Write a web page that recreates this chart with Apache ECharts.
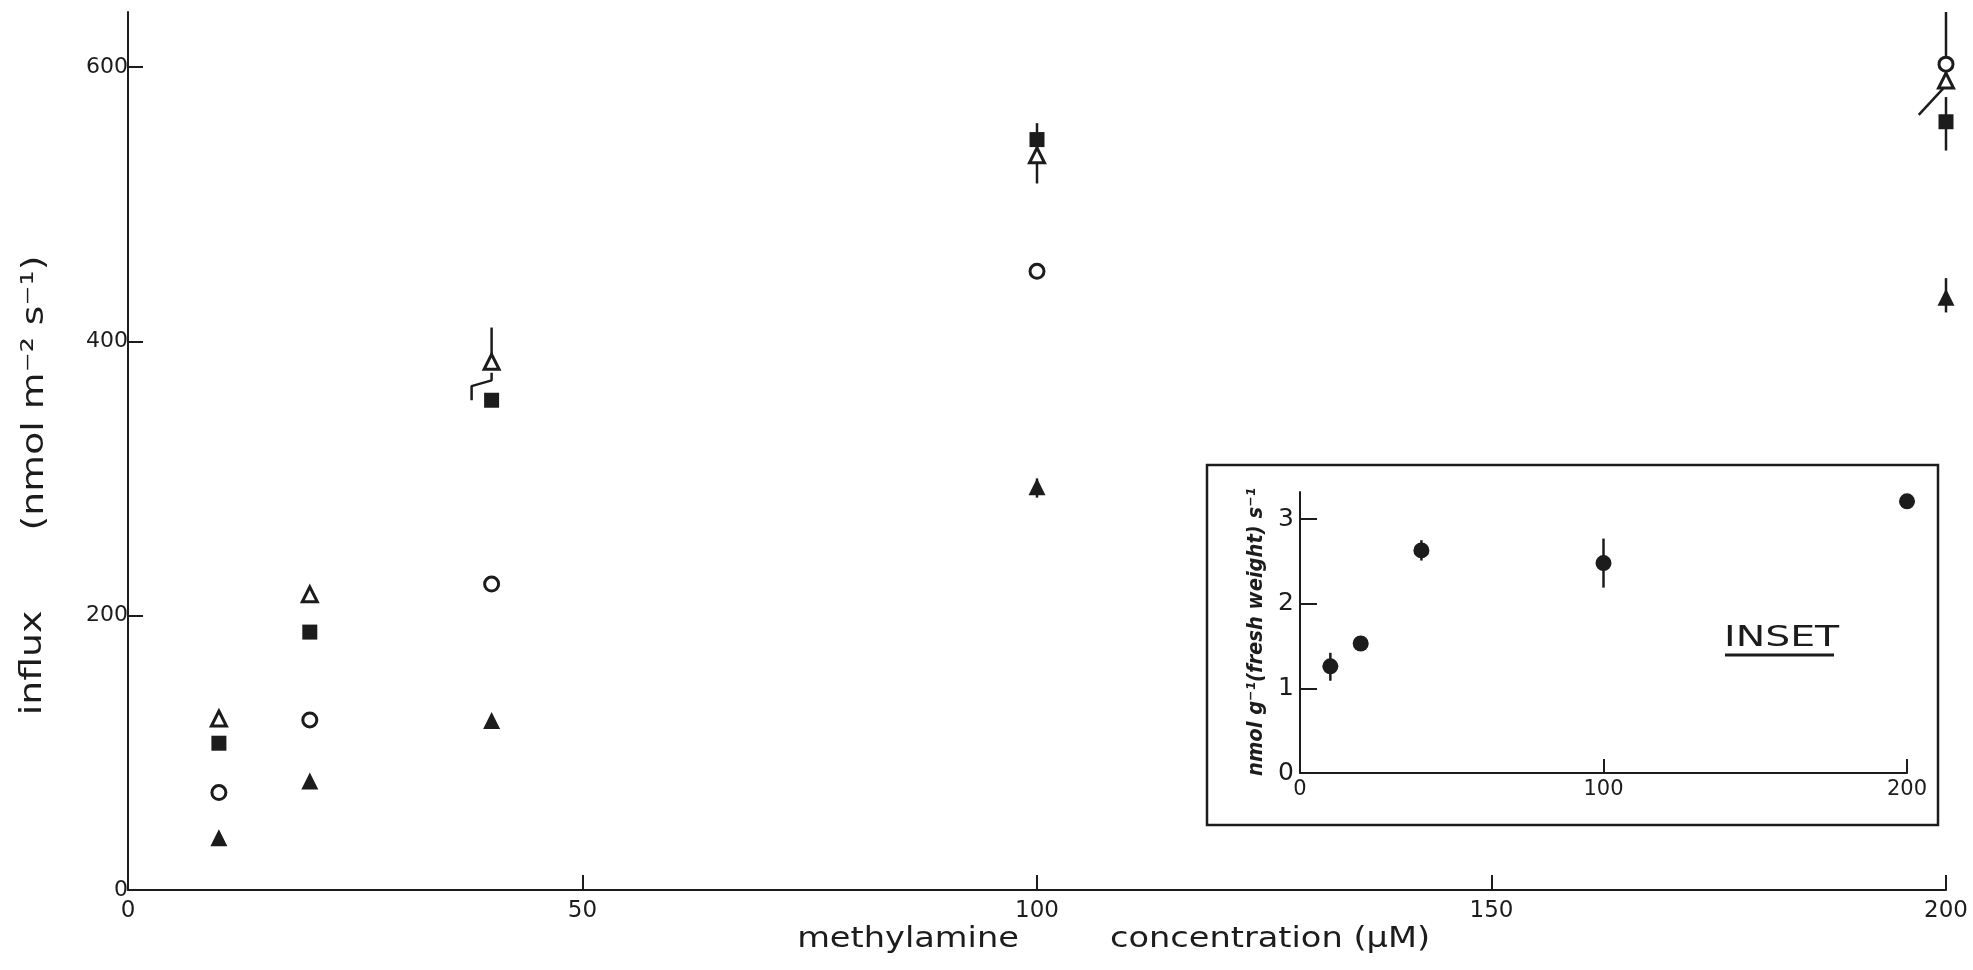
<!DOCTYPE html>
<html>
<head>
<meta charset="utf-8">
<script src="https://cdn.jsdelivr.net/npm/echarts@6/dist/echarts.min.js"></script>
<style>
  html, body { margin: 0; padding: 0; background: #ffffff; }
  #chart { width: 1973px; height: 970px; }
</style>
</head>
<body>
<div id="chart"></div>
<script>
// Methylamine influx against external concentration, four treatments
const concentration = [10, 20, 40, 100, 200];
const influxOpenTriangle = [125, 215.5, 385, 535.5, 590];
const influxFilledSquare = [107, 188, 357, 547, 560];
const influxOpenCircle = [71, 124, 223, 451, 602];
const influxFilledTriangle = [38, 79.5, 123.5, 294, 432];

// vertical error bars of the main panel: x, lower end, upper end
const errorX = [40, 100, 100, 100, 200, 200, 200];
const errorLow = [385, 515, 535, 286, 590, 539, 421];
const errorHigh = [410, 536, 559, 300, 640, 578, 446];

// lower whiskers of the open triangles, drawn aside where marks crowd
const bentWhiskers = [
  [[40, 377], [40, 371.5], [37.8, 367.3], [37.8, 357]],
  [[199.8, 585], [197, 565]]
];

const xTickValues = [0, 50, 100, 150, 200];
const yTickValues = [0, 200, 400, 600];

// inset: uptake per gram fresh weight
const insetConcentration = [10, 20, 40, 100, 200];
const insetUptake = [1.26, 1.53, 2.63, 2.48, 3.21];
const insetErrLow = [1.09, null, 2.51, 2.19, null];
const insetErrHigh = [1.42, null, 2.75, 2.77, null];
const insetXTickValues = [0, 100, 200];
const insetYTickValues = [0, 1, 2, 3];

const INK = '#1c1c1c';
const FONT = 'DejaVu Sans';

function errorBar(params, api) {
  const x = api.value(0);
  const p1 = api.coord([x, api.value(1)]);
  const p2 = api.coord([x, api.value(2)]);
  return {
    type: 'line',
    shape: { x1: p1[0], y1: p1[1], x2: p2[0], y2: p2[1] },
    style: { stroke: INK, lineWidth: 2.5 }
  };
}

function axisCommon(extra) {
  return Object.assign({
    type: 'value',
    splitLine: { show: false },
    axisLine: { show: true, onZero: false, lineStyle: { color: INK, width: 2 } },
  }, extra);
}

function centredText(x, y, text, font, extra) {
  return Object.assign({
    type: 'text', z: 10, x: x, y: y,
    style: { text: text, fill: INK, font: font,
      textAlign: 'center', textVerticalAlign: 'middle', align: 'center', verticalAlign: 'middle' }
  }, extra);
}

const mainErrorData = errorX.map((x, i) => [x, errorLow[i], errorHigh[i]]);
const insetErrorData = insetConcentration
  .map((x, i) => [x, insetErrLow[i], insetErrHigh[i]])
  .filter(d => d[1] !== null);

const pairs = ys => concentration.map((x, i) => [x, ys[i]]);

const chart = echarts.init(document.getElementById('chart'), null, { renderer: 'canvas' });

chart.setOption({
  backgroundColor: '#ffffff',
  animation: false,
  grid: [
    { left: 128, right: 27, top: 12, bottom: 80 },
    { left: 1300, top: 492, width: 607, height: 281 }
  ],
  xAxis: [
    axisCommon({
      gridIndex: 0, min: 0, max: 200, interval: 50,
      axisTick: { show: true, inside: true, length: 15, customValues: [50, 100, 150, 200],
        lineStyle: { color: INK, width: 2 } },
      axisLabel: { customValues: xTickValues, color: INK, fontSize: 23, fontFamily: FONT, margin: 10 }
    }),
    axisCommon({
      gridIndex: 1, min: 0, max: 200, interval: 100,
      axisTick: { show: true, inside: true, length: 14, customValues: [100, 200],
        lineStyle: { color: INK, width: 2 } },
      axisLabel: { customValues: insetXTickValues, color: INK, fontSize: 21, fontFamily: FONT, margin: 6 }
    })
  ],
  yAxis: [
    axisCommon({
      gridIndex: 0, min: 0, max: 640, interval: 200,
      axisTick: { show: true, inside: true, length: 15, customValues: [200, 400, 600],
        lineStyle: { color: INK, width: 2 } },
      axisLabel: { customValues: yTickValues, color: INK, fontSize: 22, fontFamily: FONT, margin: 0 }
    }),
    axisCommon({
      gridIndex: 1, min: 0, max: 3.32, interval: 1,
      axisTick: { show: true, inside: true, length: 17, customValues: [1, 2, 3],
        lineStyle: { color: INK, width: 2 } },
      axisLabel: { customValues: insetYTickValues, color: INK, fontSize: 25, fontFamily: FONT, margin: 6 }
    })
  ],
  series: [
    {
      name: 'error bars', type: 'custom', xAxisIndex: 0, yAxisIndex: 0, z: 1,
      renderItem: errorBar, data: mainErrorData
    },
    ...bentWhiskers.map(w => ({
      type: 'line', xAxisIndex: 0, yAxisIndex: 0, z: 1, symbol: 'none',
      lineStyle: { color: INK, width: 2.5 }, data: w
    })),
    {
      name: 'open triangle', type: 'scatter', xAxisIndex: 0, yAxisIndex: 0, z: 3,
      symbol: 'triangle', symbolSize: 15,
      itemStyle: { color: '#ffffff', borderColor: INK, borderWidth: 3, opacity: 1 },
      data: pairs(influxOpenTriangle)
    },
    {
      name: 'filled square', type: 'scatter', xAxisIndex: 0, yAxisIndex: 0, z: 3,
      symbol: 'rect', symbolSize: 15,
      itemStyle: { color: INK, opacity: 1 },
      data: pairs(influxFilledSquare)
    },
    {
      name: 'open circle', type: 'scatter', xAxisIndex: 0, yAxisIndex: 0, z: 3,
      symbol: 'circle', symbolSize: 14,
      itemStyle: { color: '#ffffff', borderColor: INK, borderWidth: 3, opacity: 1 },
      data: pairs(influxOpenCircle)
    },
    {
      name: 'filled triangle', type: 'scatter', xAxisIndex: 0, yAxisIndex: 0, z: 3,
      symbol: 'triangle', symbolSize: 17,
      itemStyle: { color: INK, opacity: 1 },
      data: pairs(influxFilledTriangle)
    },
    {
      name: 'inset error bars', type: 'custom', xAxisIndex: 1, yAxisIndex: 1, z: 1,
      renderItem: errorBar, data: insetErrorData
    },
    {
      name: 'inset uptake', type: 'scatter', xAxisIndex: 1, yAxisIndex: 1, z: 3,
      symbol: 'circle', symbolSize: 16,
      itemStyle: { color: INK, opacity: 1 },
      data: insetConcentration.map((x, i) => [x, insetUptake[i]])
    }
  ],
  graphic: [
    {
      type: 'rect', z: 0, silent: true,
      shape: { x: 1207, y: 465, width: 731, height: 360 },
      style: { fill: null, stroke: INK, lineWidth: 2.5 }
    },
    centredText(33, 663, 'influx', '31px "DejaVu Sans"',
      { rotation: Math.PI / 2, scaleX: 1.22 }),
    centredText(35, 393, '(nmol m\u207B\u00B2 s\u207B\u00B9)', '31px "DejaVu Sans"',
      { rotation: Math.PI / 2, scaleX: 1.22 }),
    centredText(908, 940, 'methylamine', '28px "DejaVu Sans"', { scaleX: 1.2 }),
    centredText(1270, 940, 'concentration (\u00B5M)', '28px "DejaVu Sans"', { scaleX: 1.2 }),
    centredText(1257, 632, 'nmol g\u207B\u00B9(fresh weight) s\u207B\u00B9', 'italic bold 21px "DejaVu Sans"',
      { rotation: Math.PI / 2, scaleX: 0.93 }),
    {
      type: 'text', z: 10, x: 1724, y: 638, scaleX: 1.36,
      style: { text: 'INSET', fill: INK, font: '29px "DejaVu Sans"',
        textAlign: 'left', textVerticalAlign: 'middle', align: 'left', verticalAlign: 'middle' }
    },
    {
      type: 'line', z: 10, silent: true,
      shape: { x1: 1725, y1: 655, x2: 1834, y2: 655 },
      style: { stroke: INK, lineWidth: 3 }
    }
  ]
});
</script>
</body>
</html>
